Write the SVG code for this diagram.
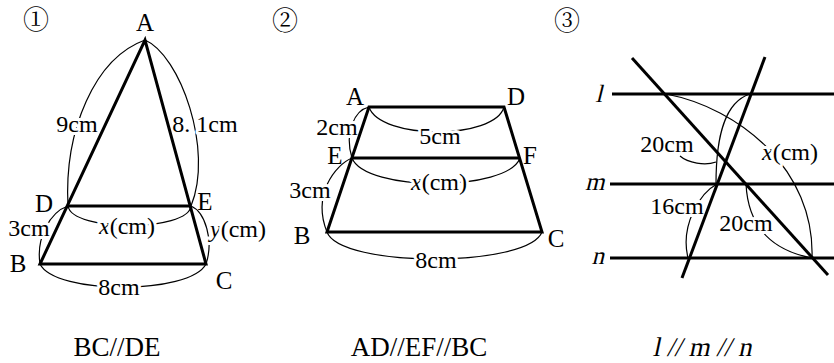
<svg xmlns="http://www.w3.org/2000/svg" width="834" height="363" viewBox="0 0 834 363">
<style>
.thick{stroke:#000;stroke-width:3;fill:none;stroke-linejoin:miter;stroke-linecap:butt}
.arc{stroke:#000;stroke-width:1.2;fill:none}
.lbl{font-size:24px;fill:#000;text-anchor:middle;dominant-baseline:central;stroke:#fff;stroke-width:6px;stroke-linejoin:round;paint-order:stroke}
.pt{font-size:25px;fill:#000;text-anchor:middle;dominant-baseline:central}
.num{font-size:26px;fill:#000;text-anchor:middle;dominant-baseline:central}
.cap{font-size:27px;fill:#000;text-anchor:middle;dominant-baseline:central}
.it{font-style:italic}
</style>
<rect width="834" height="363" fill="#fff"/>
<g id="fig1-arcs">
  <path class="arc" d="M145,40 C95,58 64,130 68,206"/>
  <path class="arc" d="M145,40 C180,55 214,150 191,206"/>
  <path class="arc" d="M68,206 C50,212 36,238 40,264"/>
  <path class="arc" d="M68,206 C72,232 188,232 191,206"/>
  <path class="arc" d="M191,206 C205,212 214,240 206,264"/>
  <path class="arc" d="M40,264 C55,295 190,295 206,264"/>
</g>
<g id="fig2-arcs">
  <path class="arc" d="M369,107 C355,110 344,132 352,158"/>
  <path class="arc" d="M352,158 C335,165 312,195 327,232"/>
  <path class="arc" d="M369,107 C380,140 495,140 504,107"/>
  <path class="arc" d="M352,158 C365,192 508,192 520,158"/>
  <path class="arc" d="M327,232 C340,268 528,268 542,232"/>
</g>
<g id="fig3-arcs">
  <path class="arc" d="M666,94 C740,108 815,170 812,258"/>
  <path class="arc" d="M750,94 C725,102 716,135 716,184"/>
  <path class="arc" d="M680,156 C688,163 705,166 716,162"/>
  <path class="arc" d="M717,184 C700,193 680,225 688,258"/>
  <path class="arc" d="M746,184 C748,225 770,250 812,258"/>
</g>
<text class="lbl" font-family="Liberation Serif" x="77" y="124">9cm</text>
<text class="lbl" font-family="Liberation Serif" x="205" y="124">8. 1cm</text>
<text class="lbl" font-family="Liberation Serif" x="29" y="228" font-size="23">3cm</text>
<text class="lbl" font-family="Liberation Serif" x="127" y="226"><tspan class="it">x</tspan>(cm)</text>
<text class="lbl" font-family="Liberation Serif" x="238" y="229"><tspan class="it">y</tspan>(cm)</text>
<text class="lbl" font-family="Liberation Serif" x="119" y="287">8cm</text>
<text class="lbl" font-family="Liberation Serif" x="337" y="127" font-size="23">2cm</text>
<text class="lbl" font-family="Liberation Serif" x="440" y="136" font-size="23">5cm</text>
<text class="lbl" font-family="Liberation Serif" x="310" y="190" font-size="23">3cm</text>
<text class="lbl" font-family="Liberation Serif" x="439" y="182"><tspan class="it">x</tspan>(cm)</text>
<text class="lbl" font-family="Liberation Serif" x="436" y="260">8cm</text>
<text class="lbl" font-family="Liberation Serif" x="667" y="144" font-size="23">20cm</text>
<text class="lbl" font-family="Liberation Serif" x="790" y="152"><tspan class="it">x</tspan>(cm)</text>
<text class="lbl" font-family="Liberation Serif" x="677" y="206" font-size="23">16cm</text>
<text class="lbl" font-family="Liberation Serif" x="746" y="223" font-size="23">20cm</text>
<g id="fig1-shape">
  <path class="thick" d="M40,264 L145,40 L206,264 Z"/>
  <path class="thick" d="M67,206 H191"/>
</g>
<g id="fig2-shape">
  <path class="thick" d="M369,107 H504 L542,232 H327 Z"/>
  <path class="thick" d="M352,158 H520"/>
</g>
<g id="fig3-lines">
  <path class="thick" d="M612,94 H834"/>
  <path class="thick" d="M610,184 H834"/>
  <path class="thick" d="M610,258 H834"/>
  <path class="thick" d="M632,58 L828,275"/>
  <path class="thick" d="M765,57 L682,278"/>
</g>
<text class="num" x="36" y="17.5" font-family="Noto Serif CJK JP">①</text>
<text class="num" x="285" y="18.5" font-family="Noto Serif CJK JP">②</text>
<text class="num" x="567" y="18.5" font-family="Noto Serif CJK JP">③</text>
<text class="pt" font-family="Liberation Serif" x="145" y="22">A</text>
<text class="pt" font-family="Liberation Serif" x="44" y="203">D</text>
<text class="pt" font-family="Liberation Serif" x="205" y="201">E</text>
<text class="pt" font-family="Liberation Serif" x="18" y="263">B</text>
<text class="pt" font-family="Liberation Serif" x="224" y="280">C</text>
<text class="pt" font-family="Liberation Serif" x="355" y="96">A</text>
<text class="pt" font-family="Liberation Serif" x="516" y="96">D</text>
<text class="pt" font-family="Liberation Serif" x="335" y="155">E</text>
<text class="pt" font-family="Liberation Serif" x="530" y="155">F</text>
<text class="pt" font-family="Liberation Serif" x="302" y="235">B</text>
<text class="pt" font-family="Liberation Serif" x="556" y="238">C</text>
<text class="pt" font-family="Liberation Serif" font-size="26" transform="translate(601,93.5) skewX(-14)" x="0" y="0">l</text>
<text class="pt" font-family="Liberation Serif" font-size="26" transform="translate(597,181.5) skewX(-14)" x="0" y="0">m</text>
<text class="pt" font-family="Liberation Serif" font-size="26" transform="translate(600,255.5) skewX(-14)" x="0" y="0">n</text>
<text class="cap" font-family="Liberation Serif" x="117" y="347">BC//DE</text>
<text class="cap" font-family="Liberation Serif" x="419" y="347">AD//EF//BC</text>
<text class="cap" font-family="Liberation Serif" transform="translate(704,347) skewX(-12)" x="0" y="0">l // m // n</text>
</svg>
